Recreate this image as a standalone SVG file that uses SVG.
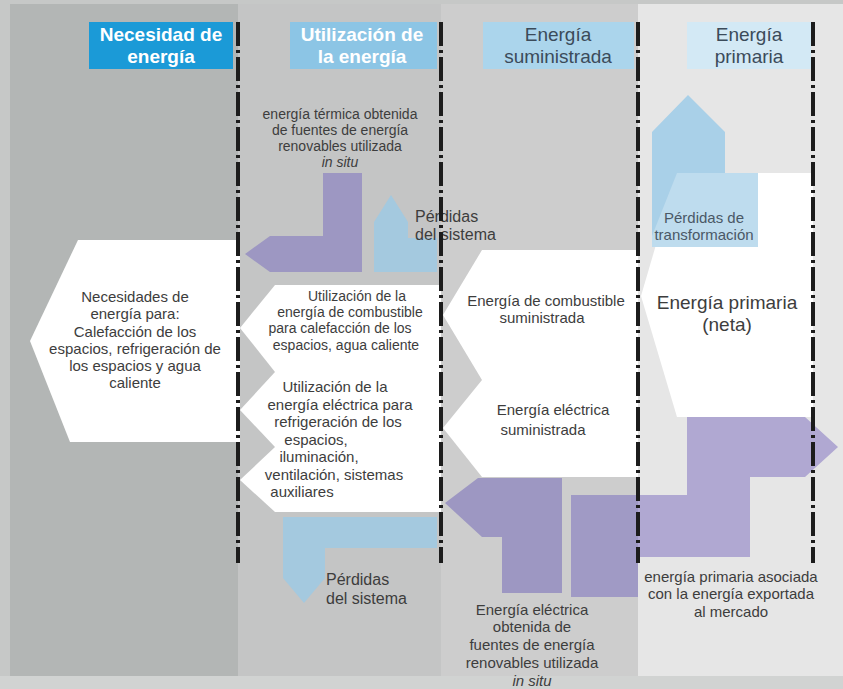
<svg xmlns="http://www.w3.org/2000/svg" width="843" height="689" viewBox="0 0 843 689">
  <defs>
    <style>
      .t{font-family:"Liberation Sans",Arial,Helvetica,sans-serif;font-size:15px;fill:#3d3d3d;text-anchor:middle}
      .s{text-anchor:start}
      .p{font-size:16px}
      .sm{font-size:14px}
      .h{font-family:"Liberation Sans",Arial,Helvetica,sans-serif;font-size:19px;text-anchor:middle}
      .hw{fill:#ffffff;font-weight:bold}
      .hd{fill:#3b4b5a}
      .sep{stroke:#1c1c1c;stroke-width:4;stroke-dasharray:24 4 3 4;fill:none}
      .w{fill:#ffffff}
      .pu{fill:#9d97c2}
      .pl{fill:#b0a8d2}
      .bl{fill:#a4c9df}
      .tb{fill:#4a5866}
    </style>
  </defs>

  <!-- column backgrounds -->
  <g id="background">
    <rect x="0" y="0" width="843" height="689" fill="#c6c8c7"/>
    <rect x="10" y="4" width="228" height="672" fill="#b3b6b5"/>
    <rect x="238" y="4" width="203" height="672" fill="#c4c5c5"/>
    <rect x="441" y="4" width="197" height="672" fill="#cdcdcd"/>
    <rect x="638" y="4" width="205" height="672" fill="#e6e6e6"/>
    <rect x="0" y="676" width="843" height="13" fill="#ffffff" opacity="0.2"/>
  </g>

  <!-- column headers -->
  <g id="hdr-necesidad">
    <rect x="89" y="22" width="144" height="47" fill="#1b9ad7"/>
    <text class="h hw" x="161" y="41">Necesidad de</text>
    <text class="h hw" x="161" y="63">energía</text>
  </g>
  <g id="hdr-utilizacion">
    <rect x="290" y="22" width="147" height="47" fill="#8cc5e5"/>
    <text class="h hw" x="362" y="41">Utilización de</text>
    <text class="h hw" x="362" y="63">la energía</text>
  </g>
  <g id="hdr-suministrada">
    <rect x="483" y="22" width="151" height="47" fill="#abd5ec"/>
    <text class="h hd" x="558" y="41">Energía</text>
    <text class="h hd" x="558" y="63">suministrada</text>
  </g>
  <g id="hdr-primaria">
    <rect x="687" y="22" width="124" height="47" fill="#d3e9f5"/>
    <text class="h hd" x="749" y="41">Energía</text>
    <text class="h hd" x="749" y="63">primaria</text>
  </g>

  <!-- energy need -->
  <g id="n-necesidades">
    <polygon class="w" points="240,240 78,240 30,341 70,442 240,442"/>
    <text class="t" x="135" y="302">Necesidades de</text>
    <text class="t" x="135" y="319">energía para:</text>
    <text class="t" x="135" y="337">Calefacción de los</text>
    <text class="t" x="135" y="354">espacios, refrigeración de</text>
    <text class="t" x="135" y="371">los espacios y agua</text>
    <text class="t" x="135" y="388">caliente</text>
  </g>

  <!-- energy use: fuel -->
  <g id="n-util-combustible">
    <polygon class="w" points="441,285 275,285 240,328 275,372 441,372"/>
    <text class="t sm" x="357" y="301">Utilización de la</text>
    <text class="t sm" x="350" y="317.2">energía de combustible</text>
    <text class="t sm" x="340" y="333.4">para calefacción de los</text>
    <text class="t sm" x="346" y="349.6">espacios, agua caliente</text>
  </g>

  <!-- energy use: electricity -->
  <g id="n-util-electrica">
    <polygon class="w" points="441,372 275,372 240,410 275,447 441,447"/>
    <polygon class="w" points="441,447 275,447 240,480 275,512 441,512"/>
    <text class="t" x="335" y="392">Utilización de la</text>
    <text class="t" x="340" y="410">energía eléctrica para</text>
    <text class="t" x="338" y="427">refrigeración de los</text>
    <text class="t" x="316" y="445">espacios,</text>
    <text class="t" x="319" y="462">iluminación,</text>
    <text class="t" x="334" y="480">ventilación, sistemas</text>
    <text class="t" x="302" y="497">auxiliares</text>
  </g>

  <!-- delivered fuel -->
  <g id="n-sum-combustible">
    <polygon class="w" points="638,250 482,250 443,315 482,380 638,380"/>
    <text class="t" x="546" y="306">Energía de combustible</text>
    <text class="t" x="542" y="323">suministrada</text>
  </g>

  <!-- delivered electricity -->
  <g id="n-sum-electrica">
    <polygon class="w" points="638,380 482,380 443,428 482,477 638,477"/>
    <text class="t" x="553" y="415">Energía eléctrica</text>
    <text class="t" x="543" y="435">suministrada</text>
  </g>

  <!-- net primary energy -->
  <g id="n-primaria">
    <polygon class="w" points="813,173 677,173 641,296 677,417 813,417"/>
    <text class="t" x="727" y="309" style="font-size:19px">Energía primaria</text>
    <text class="t" x="727" y="331" style="font-size:19px">(neta)</text>
  </g>

  <!-- flows: renewables, losses, export -->
  <g id="connectors">
    <polygon id="f-termica" class="pu" points="362,173 323,173 323,236 270,236 245,254 270,272 362,272"/>
    <polygon id="f-perdidas-sup" class="bl" points="374,272 374,222 391,195 408,222 408,238 437,238 437,272"/>
    <polygon id="f-perdidas-inf" class="bl" points="437,517 283,517 283,578 304,603 325,578 325,548 437,548"/>
    <polygon id="f-transformacion" fill="#a9d0e8" points="652,247 652,132 688,95 725,132 725,173 758,173 758,247"/>
    <polygon fill="#ffffff" opacity="0.25" points="677,173 758,173 758,247 652,247 652,236"/>
    <polygon id="f-electrica-insitu" class="pu" points="562,478 478,478 445,503 482,537 502,537 502,593 562,593"/>
    <rect id="f-export-a" x="571" y="495" width="67" height="102" fill="#a09ac5"/>
    <polygon id="f-export-b" class="pl" points="638,495 687,495 687,417 805,417 838,447 805,477 750,477 750,557 638,557"/>
  </g>

  <!-- flow labels -->
  <g id="lbl-termica">
    <text class="t sm" x="340" y="119">energía térmica obtenida</text>
    <text class="t sm" x="340" y="135">de fuentes de energía</text>
    <text class="t sm" x="340" y="151">renovables utilizada</text>
    <text class="t sm" x="340" y="167" font-style="italic">in situ</text>
  </g>
  <g id="lbl-perdidas-sup">
    <text class="t s p" x="415" y="222">Pérdidas</text>
    <text class="t s p" x="415" y="240">del sistema</text>
  </g>
  <g id="lbl-perdidas-inf">
    <text class="t s p" x="326" y="585">Pérdidas</text>
    <text class="t s p" x="326" y="604">del sistema</text>
  </g>
  <g id="lbl-transformacion">
    <text class="t tb" x="704" y="223">Pérdidas de</text>
    <text class="t tb" x="704" y="240">transformación</text>
  </g>
  <g id="lbl-electrica-insitu">
    <text class="t" x="532" y="615">Energía eléctrica</text>
    <text class="t" x="532" y="632">obtenida de</text>
    <text class="t" x="532" y="650">fuentes de energía</text>
    <text class="t" x="532" y="668">renovables utilizada</text>
    <text class="t" x="532" y="686" font-style="italic">in situ</text>
  </g>
  <g id="lbl-export">
    <text class="t" x="731" y="582">energía primaria asociada</text>
    <text class="t" x="731" y="599">con la energía exportada</text>
    <text class="t" x="731" y="617">al mercado</text>
  </g>

  <!-- column boundaries -->
  <g id="separators">
    <line class="sep" x1="238" y1="22" x2="238" y2="563"/>
    <line class="sep" x1="441" y1="22" x2="441" y2="563"/>
    <line class="sep" x1="638" y1="22" x2="638" y2="563"/>
    <line class="sep" x1="813" y1="22" x2="813" y2="563"/>
  </g>
</svg>
